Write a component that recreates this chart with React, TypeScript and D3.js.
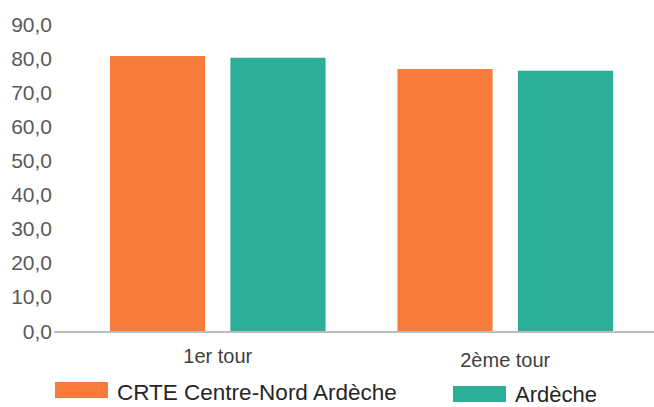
import { useEffect, useRef } from "react";
import * as d3 from "d3";

const categories = ["1er tour", "2ème tour"];
const seriesNames = ["CRTE Centre-Nord Ardèche", "Ardèche"];
const crteValues = [80.6, 76.8];
const ardecheValues = [80.1, 76.3];
const yTicks = [0, 10, 20, 30, 40, 50, 60, 70, 80, 90];

const COLORS = ["#f77b3b", "#2dae96"];

export default function App() {
  const svgRef = useRef<SVGSVGElement>(null);

  useEffect(() => {
    if (!svgRef.current) return;
    const svg = d3.select(svgRef.current);
    svg.selectAll("*").remove();

    const y = d3.scaleLinear().domain([0, 90]).range([331, 24]);
    const x = d3.scaleBand<string>().domain(categories).range([74, 649]).paddingInner(0.25).paddingOuter(0.125);
    const xs = d3.scaleBand<string>().domain(seriesNames).range([0, x.bandwidth()]).paddingInner(0.21);

    // y tick labels
    svg.append("g")
      .selectAll("text")
      .data(yTicks)
      .join("text")
      .attr("x", 52)
      .attr("y", (d) => y(d))
      .attr("dy", "0.36em")
      .attr("text-anchor", "end")
      .attr("fill", "#595959")
      .attr("font-size", 21)
      .text((d) => d3.format(".1f")(d).replace(".", ","));

    // bars
    const rows = categories.map((c, i) => ({ c, vals: [crteValues[i], ardecheValues[i]] }));
    const groups = svg.append("g").selectAll("g").data(rows).join("g")
      .attr("transform", (d) => `translate(${x(d.c)},0)`);
    groups.selectAll("rect")
      .data((d) => d.vals.map((v, j) => ({ v, s: seriesNames[j], j })))
      .join("rect")
      .attr("x", (d) => xs(d.s)!)
      .attr("y", (d) => y(d.v))
      .attr("width", xs.bandwidth())
      .attr("height", (d) => y(0) - y(d.v))
      .attr("fill", (d) => COLORS[d.j]);

    // baseline
    svg.append("line")
      .attr("x1", 54).attr("x2", 654)
      .attr("y1", y(0) + 1).attr("y2", y(0) + 1)
      .attr("stroke", "#a6a6a6").attr("stroke-width", 1.5);

    // category labels
    svg.append("g").selectAll("text").data(categories).join("text")
      .attr("x", (d) => x(d)! + x.bandwidth() / 2)
      .attr("y", (d, i) => (i === 0 ? 363 : 367))
      .attr("text-anchor", "middle")
      .attr("fill", "#404040")
      .attr("font-size", 20)
      .text((d) => d);

    // legend
    const legendPos = [
      { x: 55, y: 382, ty: 400, fs: 22.5 },
      { x: 453, y: 386, ty: 402, fs: 22 },
    ];
    seriesNames.forEach((name, i) => {
      svg.append("rect")
        .attr("x", legendPos[i].x).attr("y", legendPos[i].y)
        .attr("width", 53).attr("height", 16)
        .attr("fill", COLORS[i]);
      svg.append("text")
        .attr("x", legendPos[i].x + 62).attr("y", legendPos[i].ty)
        .attr("fill", "#262626")
        .attr("font-size", legendPos[i].fs)
        .text(name);
    });
  }, []);

  return (
    <svg
      ref={svgRef}
      width={654}
      height={407}
      style={{ position: "absolute", left: 0, top: 0, background: "#fff", fontFamily: "Arial, 'Liberation Sans', sans-serif" }}
    />
  );
}
